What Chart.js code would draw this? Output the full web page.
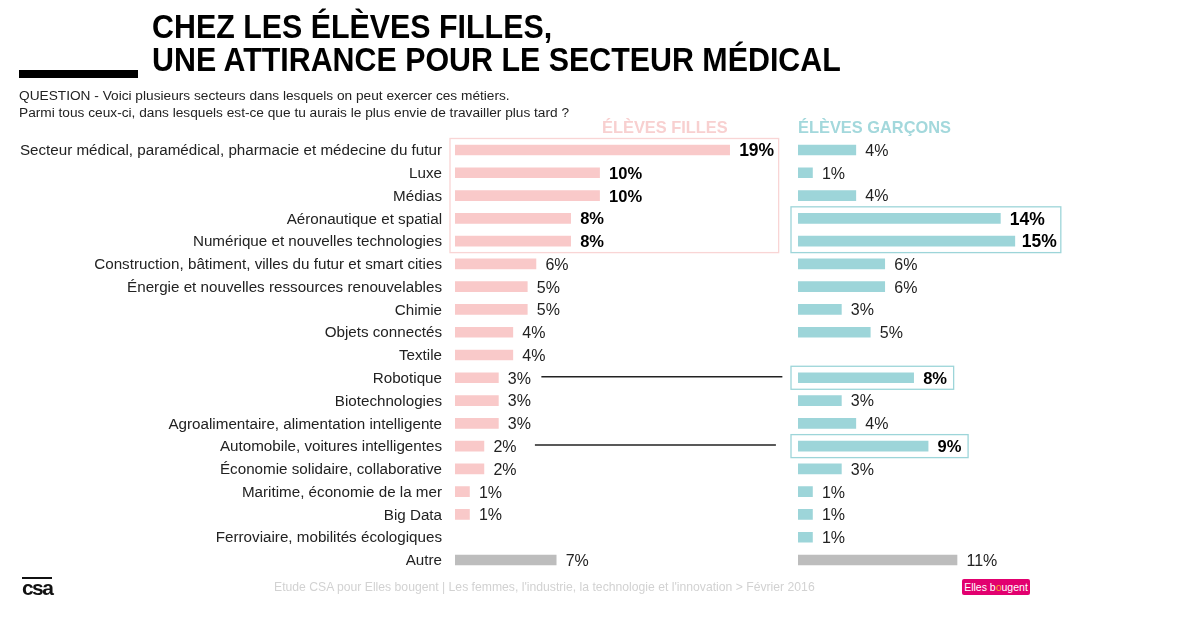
<!DOCTYPE html>
<html lang="fr"><head><meta charset="utf-8">
<style>
html,body{margin:0;padding:0;background:#fff;width:1200px;height:620px;overflow:hidden;font-family:"Liberation Sans",Arial,sans-serif}
canvas{position:absolute;left:0;top:0}
.t{position:absolute;white-space:nowrap}
#title{left:152px;top:11px;font-size:32.5px;font-weight:bold;line-height:33px;color:#000;z-index:2;transform:scaleX(.935);transform-origin:left top}
#bar{position:absolute;left:19px;top:70px;width:119px;height:8px;background:#000}
#q{left:19px;top:87px;font-size:13.7px;line-height:17px;color:#222}
.h{top:117px;font-size:16.4px;font-weight:bold;line-height:20px}
#foot{left:274px;top:579px;font-size:12.2px;line-height:16px;color:#d2d2d2}
#logo{left:22px;top:577px;font-size:21px;font-weight:bold;line-height:18px;color:#111;letter-spacing:-1.6px;border-top:2px solid #111;width:30px}
#badge{left:962px;top:579px;width:68px;height:16px;background:#e2006f;border-radius:2px;color:#fff;font-size:10.5px;line-height:16px;text-align:center}
#badge span{color:#f5a623}
</style></head><body>
<canvas id="cF" width="1200" height="620"></canvas>
<canvas id="cG" width="1200" height="620"></canvas>
<div class="t" id="title">CHEZ LES ÉLÈVES FILLES,<br>UNE ATTIRANCE POUR LE SECTEUR MÉDICAL</div>
<div id="bar"></div>
<div class="t" id="q">QUESTION - Voici plusieurs secteurs dans lesquels on peut exercer ces métiers.<br>Parmi tous ceux-ci, dans lesquels est-ce que tu aurais le plus envie de travailler plus tard ?</div>
<div class="t h" style="left:602px;color:#f8d0d0">ÉLÈVES FILLES</div>
<div class="t h" style="left:798px;color:#a3d8dc">ÉLÈVES GARÇONS</div>
<div class="t" id="foot">Etude CSA pour Elles bougent | Les femmes, l'industrie, la technologie et l'innovation &gt; Février 2016</div>
<div class="t" id="logo">csa</div>
<div class="t" id="badge">Elles b<span>o</span>ugent</div>
<script src="https://cdn.jsdelivr.net/npm/chart.js@4"></script>
<script>
const categories = ["Secteur médical, paramédical, pharmacie et médecine du futur","Luxe","Médias","Aéronautique et spatial","Numérique et nouvelles technologies","Construction, bâtiment, villes du futur et smart cities","Énergie et nouvelles ressources renouvelables","Chimie","Objets connectés","Textile","Robotique","Biotechnologies","Agroalimentaire, alimentation intelligente","Automobile, voitures intelligentes","Économie solidaire, collaborative","Maritime, économie de la mer","Big Data","Ferroviaire, mobilités écologiques","Autre"];
const filles = [19,10,10,8,8,5.6,5,5,4,4,3,3,3,2,2,1,1,null,7];
const garcons = [4,1,4,14,15,6,6,3,5,null,8,3,4,9,3,1,1,1,11];
const boldFilles = [0,1,2,3,4];
const boldGarcons = [3,4,10,13];
const PINK="#f9c9c9", TEAL="#9dd5d9", GREY="#bdbdbd";
const lastRow = categories.length-1;

function rowColors(main){return categories.map((_,i)=>i===lastRow?GREY:main);}

function overlay(values,boldRows,boxes,links){
  return {id:"overlay",afterDatasetsDraw(ch){
    const c=ch.ctx,x=ch.scales.x,y=ch.scales.y;
    c.save();
    c.textBaseline="middle";c.textAlign="left";
    values.forEach((v,i)=>{
      if(v==null)return;
      const b=boldRows.includes(i), big=b&&v>=14;
      c.font=(big?"bold 17.5px":b?"bold 16.5px":"16px")+' "Liberation Sans"';
      c.fillStyle=b?"#000":"#222";
      c.fillText(Math.round(v)+"%",x.getPixelForValue(v)+(v===15?7:9.5),y.getPixelForValue(i)+1.5);
    });
    boxes.forEach(b=>{
      const top=y.getPixelForValue(b.from)-11.5,bot=y.getPixelForValue(b.to)+11.5;
      const l=x.getPixelForValue(0)-b.padL,r=x.getPixelForValue(values[b.ref])+b.padR;
      c.strokeStyle=b.color;c.lineWidth=1.3;c.strokeRect(l,top,r-l,bot-top);
    });
    links.forEach(k=>{
      const py=y.getPixelForValue(k.row)-1,px=x.getPixelForValue(values[k.row])+k.gap;
      c.strokeStyle="#222";c.lineWidth=1.5;c.beginPath();c.moveTo(px,py);c.lineTo(px+241,py);c.stroke();
    });
    c.restore();
  }};
}

function make(id,values,main,padL,padR,showLabels,plugin){
  return new Chart(document.getElementById(id),{
    type:"bar",
    data:{labels:categories,datasets:[{data:values,backgroundColor:rowColors(main),barThickness:10,borderWidth:0}]},
    options:{
      indexAxis:"y",responsive:false,animation:false,devicePixelRatio:1,
      layout:{padding:{left:padL,right:padR,top:138.6,bottom:48.6}},
      plugins:{legend:{display:false},tooltip:{enabled:false},title:{display:false}},
      scales:{
        x:{display:false,min:0,max:22,grid:{display:false}},
        y:{display:showLabels,grid:{display:false,drawTicks:false},border:{display:false},
           afterFit(s){if(showLabels)s.width=455;},
           ticks:{padding:13,labelOffset:1,color:"#222",autoSkip:false,font:{family:"Liberation Sans",size:15.2}}}
      }
    },
    plugins:[plugin]
  });
}

make("cF",filles,PINK,0,427,true,overlay(filles,boldFilles,
  [{from:0,to:4,ref:0,padL:5,padR:49,color:"#f9d5d5"}],
  [{row:10,gap:43},{row:13,gap:51}]));
make("cG",garcons,TEAL,798,84,false,overlay(garcons,boldGarcons,
  [{from:3,to:4,ref:4,padL:7,padR:46,color:TEAL},
   {from:10,to:10,ref:10,padL:7,padR:40,color:TEAL},
   {from:13,to:13,ref:13,padL:7,padR:40,color:TEAL}],[]));
</script>
</body></html>
